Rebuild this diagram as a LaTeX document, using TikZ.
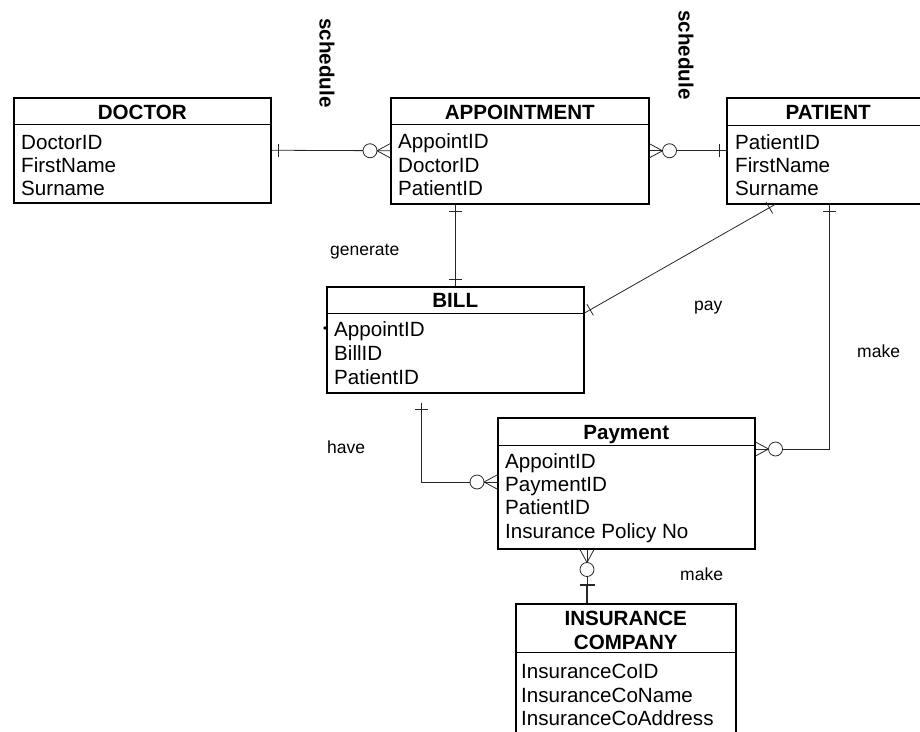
\documentclass[tikz,border=0pt]{standalone}
\usepackage{fontspec}
\setmainfont{Liberation Sans}
\usetikzlibrary{calc}
\begin{document}
\begin{tikzpicture}[x=1pt,y=-1pt,
 entity/.style={draw, line width=1.5pt, inner sep=0pt, anchor=north west},
 divider/.style={line width=1pt},
 conn/.style={line width=0.8pt, draw=black!85},
 attr/.style={anchor=base west, inner sep=0pt, font=\fontsize{20.6}{24}\selectfont},
 ttl/.style={anchor=base, inner sep=0pt, font=\fontsize{20.6}{24}\selectfont\bfseries},
 lbl/.style={anchor=base west, inner sep=0pt, font=\fontsize{17.5}{20}\selectfont},
 sched/.style={rotate=-90, inner sep=0pt, font=\fontsize{20.6}{24}\selectfont\bfseries},
 one/.pic={\draw[conn] (6.5,-6.5) -- (6.5,6.5);},
 onefar/.pic={\draw[conn, line width=1.4pt] (0,0) -- (18,0); \draw[conn, line width=1.2pt] (18,-7.5) -- (18,7.5);},
 zmany/.pic={\draw[conn] (0,-7) -- (13,0) -- (0,7); \draw[conn, fill=white] (20,0) circle (7);}
]
\useasboundingbox (0,0) rectangle (920,731);
\clip (0,0) rectangle (920,731);

% entities
\node[entity, minimum width=257, minimum height=105] (doc) at (13,97) {};
\node[entity, minimum width=258, minimum height=106] (appt) at (390,97) {};
\node[entity, minimum width=203, minimum height=106] (pat) at (726,97) {};
\node[entity, minimum width=257, minimum height=106] (bill) at (326,286) {};
\node[entity, minimum width=257, minimum height=131] (pay) at (497,417) {};
\node[entity, minimum width=220, minimum height=160] (ins) at (515,603) {};

% dividers
\draw[divider] ($(doc.north west)+(0,27)$) -- ($(doc.north east)+(0,27)$);
\draw[divider] ($(appt.north west)+(0,27)$) -- ($(appt.north east)+(0,27)$);
\draw[divider] ($(pat.north west)+(0,28)$) -- ($(pat.north east)+(0,28)$);
\draw[divider] ($(bill.north west)+(0,27)$) -- ($(bill.north east)+(0,27)$);
\draw[divider] ($(pay.north west)+(0,28)$) -- ($(pay.north east)+(0,28)$);
\draw[divider] ($(ins.north west)+(0,49)$) -- ($(ins.north east)+(0,49)$);

% titles
\node[ttl] (tdoc) at ($(doc.north)+(0,22)$) {DOCTOR};
\node[ttl] (tappt) at ($(appt.north)+(0,22)$) {APPOINTMENT};
\node[ttl] (tpat) at ($(pat.north)+(0,22)$) {PATIENT};
\node[ttl] (tbill) at ($(bill.north)+(0,21)$) {BILL};
\node[ttl] (tpay) at ($(pay.north)+(0,22)$) {Payment};
\node[ttl] (tins1) at ($(ins.north)+(0,22)$) {INSURANCE};
\node[ttl] (tins2) at ($(ins.north)+(0,46)$) {COMPANY};

% attributes
\node[attr] (d1) at ($(doc.north west)+(8,52)$) {DoctorID};
\node[attr] (d2) at ($(doc.north west)+(8,75)$) {FirstName};
\node[attr] (d3) at ($(doc.north west)+(8,98)$) {Surname};
\node[attr] (a1t) at ($(appt.north west)+(8,51)$) {AppointID};
\node[attr] (a2t) at ($(appt.north west)+(8,75)$) {DoctorID};
\node[attr] (a3t) at ($(appt.north west)+(8,98)$) {PatientID};
\node[attr] (p1t) at ($(pat.north west)+(9,52)$) {PatientID};
\node[attr] (p2t) at ($(pat.north west)+(9,75)$) {FirstName};
\node[attr] (p3t) at ($(pat.north west)+(9,98)$) {Surname};
\node[attr] (b1t) at ($(bill.north west)+(8,50)$) {AppointID};
\node[attr] (b2t) at ($(bill.north west)+(8,74)$) {BillID};
\node[attr] (b3t) at ($(bill.north west)+(8,98)$) {PatientID};
\node[attr] (y1t) at ($(pay.north west)+(8,51)$) {AppointID};
\node[attr] (y2t) at ($(pay.north west)+(8,74)$) {PaymentID};
\node[attr] (y3t) at ($(pay.north west)+(8,97)$) {PatientID};
\node[attr] (y4t) at ($(pay.north west)+(8,121)$) {Insurance Policy No};
\node[attr] (i1t) at ($(ins.north west)+(6,75)$) {InsuranceCoID};
\node[attr] (i2t) at ($(ins.north west)+(6,99)$) {InsuranceCoName};
\node[attr] (i3t) at ($(ins.north west)+(6,122)$) {InsuranceCoAddress};

\fill (325,328) circle (1.8);

% connector points
\coordinate (ca) at ($(appt.south west)+(65,0)$);
\coordinate (cb) at (ca |- bill.north);
\coordinate (cc) at ($(bill.north east)+(0,27)$);
\coordinate (cd) at ($(pat.south west)+(49,0)$);
\coordinate (ce) at ($(pat.south west)+(103,0)$);
\coordinate (cf) at ($(pay.north east)+(0,32)$);
\coordinate (cg) at ($(bill.south west)+(95,9)$);
\coordinate (ch) at ($(pay.north west)+(0,65)$);
\coordinate (ci) at ($(pay.south west)+(90,0)$);
\coordinate (cj) at ($(ins.north west)+(72,0)$);

% connectors
\draw[conn] (doc.east) -- (appt.west);
\draw[conn] (appt.east) -- (pat.west);
\draw[conn] (ca) -- (cb);
\draw[conn] (cc) -- (cd);
\draw[conn] (ce) -- (ce |- cf) -- (cf);
\draw[conn] (cg) -- (cg |- ch) -- (ch);
\draw[conn] (ci) -- (cj);

% cardinality marks
\pic[rotate=0] at (doc.east) {one};
\pic[rotate=180] at (appt.west) {zmany};
\pic[rotate=0] at (appt.east) {zmany};
\pic[rotate=180] at (pat.west) {one};
\pic[rotate=-90] at (ca) {one};
\pic[rotate=90] at (cb) {one};
\pic[rotate=29.8] at (cc) {one};
\pic[rotate=-150.2] at (cd) {one};
\pic[rotate=-90] at (ce) {one};
\pic[rotate=0] at (cf) {zmany};
\pic[rotate=-90] at (cg) {one};
\pic[rotate=180] at (ch) {zmany};
\pic[rotate=-90] at (ci) {zmany};
\pic[rotate=90] at (cj) {onefar};

% relationship labels
\node[sched] (s1) at (327,63) {schedule};
\node[sched] (s2) at (686,55) {schedule};
\node[lbl] (lgen) at (330,255) {generate};
\node[lbl] (lpay) at (694,310) {pay};
\node[lbl] (lmake1) at (857,357) {make};
\node[lbl] (lhave) at (327,453) {have};
\node[lbl] (lmake2) at (680,580) {make};
\end{tikzpicture}
\end{document}
